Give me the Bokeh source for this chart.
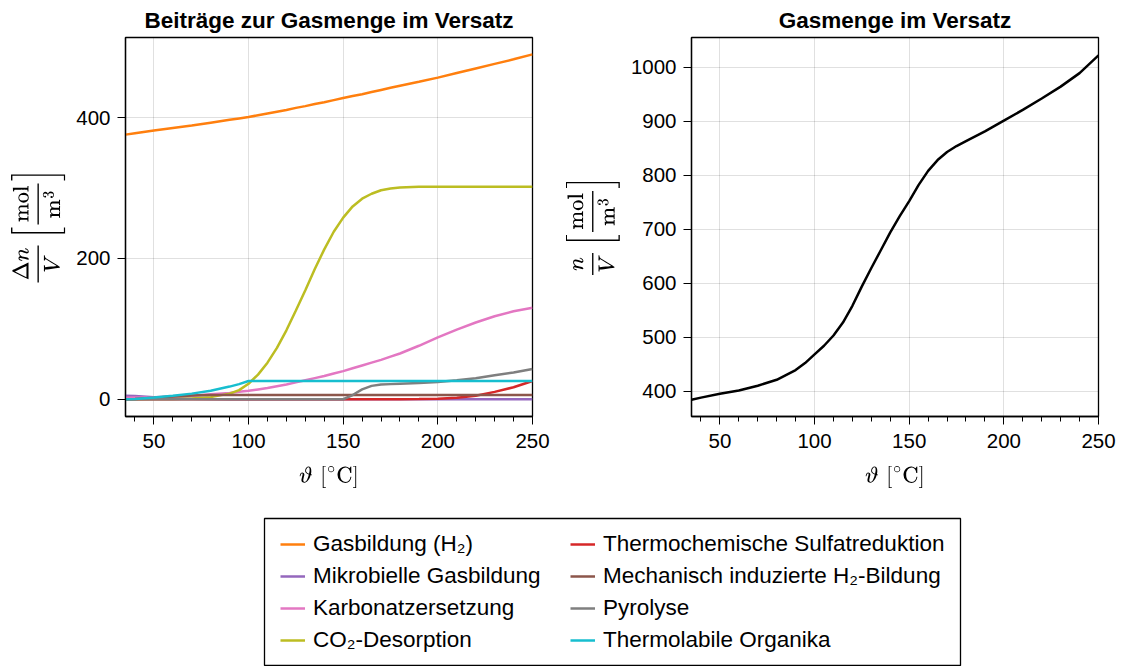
from bokeh.plotting import figure
from bokeh.models import Range1d, SingleIntervalTicker, Legend, LegendItem
from bokeh.layouts import column, row
from bokeh.embed import file_html
from bokeh.resources import INLINE

# Temperature grid (°C)
temperature = [35, 40, 50, 60, 70, 80, 90, 95, 100, 105, 110, 115, 120, 125, 130, 135,
               140, 145, 150, 155, 160, 165, 170, 175, 180, 190, 200, 210, 220, 230, 240, 250]

# Contributions to the gas amount (mol/m^3)
gasbildung_h2 = [376, 378, 382, 385.5, 389, 393, 397, 399, 401, 403.5, 406, 408.5, 411, 414, 416.5, 419.5,
                 422, 425, 428, 431, 433.5, 436.5, 439.5, 442.5, 445.5, 451, 457, 463.5, 470, 476.5, 483, 490]
mikrobiell = [5, 4.5, 3, 1.5, 0.6, 0.2, 0, 0, 0, 0, 0, 0, 0, 0, 0, 0,
              0, 0, 0, 0, 0, 0, 0, 0, 0, 0, 0, 0, 0, 0, 0, 0]
karbonat = [2, 2.5, 3, 4, 5, 7, 9, 10.5, 12, 14, 16, 18.5, 21, 24, 27, 30,
            33, 36.5, 40, 44, 48, 52, 56, 60.5, 65, 76, 88, 99, 109, 118, 125, 130]
co2_desorption = [0, 0, 0.2, 0.5, 1, 3, 8, 13, 22, 35, 52, 73, 98, 126, 155, 185,
                  213, 238, 258, 274, 285, 292, 297, 299.5, 301, 302, 302, 302, 302, 302, 302, 302]
sulfatreduktion = [0, 0, 0, 0, 0, 0, 0, 0, 0, 0, 0, 0, 0, 0, 0, 0,
                   0, 0, 0, 0, 0, 0, 0, 0, 0, 0.3, 0.8, 2, 5, 10.5, 17, 26]
mechanisch_h2 = [0, 0.5, 2, 4, 5.5, 6, 6, 6, 6, 6, 6, 6, 6, 6, 6, 6,
                 6, 6, 6, 6, 6, 6, 6, 6, 6, 6, 6, 6, 6, 6, 6, 6]
pyrolyse = [0, 0, 0, 0, 0, 0, 0, 0, 0, 0, 0, 0, 0, 0, 0, 0,
            0, 0, 0, 6, 14, 19, 21, 21.5, 22, 23, 24.5, 27, 30, 34, 38, 43]
thermolabil = [0, 0.5, 2.5, 5, 8, 12, 18, 21.5, 26, 26, 26, 26, 26, 26, 26, 26,
               26, 26, 26, 26, 26, 26, 26, 26, 26, 26, 26, 26, 26, 26, 26, 26]

# Total gas amount (mol/m^3)
gesamt = [384, 388, 395, 401, 410, 421, 439, 452, 468, 484, 503, 527, 558, 594, 628, 661,
          694, 724, 752, 782, 808, 828, 843, 854, 863, 881, 901, 921, 942, 964, 989, 1022]

labels = ["Gasbildung (H₂)", "Mikrobielle Gasbildung", "Karbonatzersetzung", "CO₂-Desorption",
          "Thermochemische Sulfatreduktion", "Mechanisch induzierte H₂-Bildung", "Pyrolyse",
          "Thermolabile Organika"]
series = [gasbildung_h2, mikrobiell, karbonat, co2_desorption,
          sulfatreduktion, mechanisch_h2, pyrolyse, thermolabil]
colors = ["#ff7f0e", "#9467bd", "#e377c2", "#bcbd22",
          "#d62728", "#8c564b", "#7f7f7f", "#17becf"]

FONT = "Liberation Sans"
LW = 2.5


def style(p, y_interval):
    p.title.text_font = FONT
    p.title.text_font_size = "22.5px"
    p.title.text_font_style = "bold"
    p.title.text_color = "black"
    p.title.align = "center"
    p.title.offset = 0
    p.outline_line_color = "black"
    p.outline_line_width = 1.3
    p.outline_line_alpha = 1
    p.xaxis.ticker = SingleIntervalTicker(interval=50, num_minor_ticks=5)
    p.yaxis.ticker = SingleIntervalTicker(interval=y_interval, num_minor_ticks=0)
    for ax in (p.xaxis, p.yaxis):
        ax.major_label_text_font = FONT
        ax.major_label_text_font_size = "20.5px"
        ax.major_label_text_color = "black"
        ax.axis_line_color = "black"
        ax.axis_line_width = 1.3
        ax.major_tick_line_color = "black"
        ax.minor_tick_line_color = "black"
        ax.major_tick_in = 0
        ax.major_tick_out = 8
        ax.minor_tick_in = 0
        ax.minor_tick_out = 5
        ax.axis_label_text_font_size = "19px"
        ax.axis_label_text_font_style = "normal"
        ax.axis_label_text_color = "black"
    p.xaxis.major_label_standoff = 9
    p.xaxis.axis_label_standoff = 15
    p.yaxis.major_label_standoff = 7
    p.yaxis.axis_label_standoff = 8
    p.yaxis.minor_tick_line_color = None
    p.grid.grid_line_color = "black"
    p.grid.grid_line_alpha = 0.12
    p.grid.grid_line_width = 1
    p.xaxis.axis_label = r"$$\vartheta\,\left[{}^\circ\mathrm{C}\right]$$"


# Left: individual contributions
p1 = figure(width=560, height=500, x_range=Range1d(35, 250), y_range=Range1d(-24.5, 514),
            title="Beiträge zur Gasmenge im Versatz", output_backend="svg", toolbar_location=None,
            min_border_left=125, min_border_right=28, min_border_top=37, min_border_bottom=84)
style(p1, 200)
p1.yaxis.axis_label = r"$$\frac{\Delta n}{V}\,\left[\frac{\mathrm{mol}}{\mathrm{m}^3}\right]$$"
for vals, col in zip(series, colors):
    p1.line(temperature, vals, line_color=col, line_width=LW)

# Right: total gas amount
p2 = figure(width=563, height=500, x_range=Range1d(35, 250), y_range=Range1d(353, 1055),
            title="Gasmenge im Versatz", output_backend="svg", toolbar_location=None,
            min_border_left=131, min_border_right=25, min_border_top=37, min_border_bottom=84)
style(p2, 100)
p2.yaxis.axis_label = r"$$\frac{n}{V}\,\left[\frac{\mathrm{mol}}{\mathrm{m}^3}\right]$$"
p2.line(temperature, gesamt, line_color="black", line_width=LW)

# Shared legend below both panels; its frame outline is the legend box
pl = figure(width=1123, height=166, x_range=Range1d(0, 1), y_range=Range1d(0, 1),
            x_axis_type=None, y_axis_type=None, output_backend="svg", toolbar_location=None,
            min_border_left=264, min_border_right=163, min_border_top=18, min_border_bottom=0)
pl.grid.visible = False
pl.outline_line_color = "black"
pl.outline_line_width = 1.3
items = []
for lab, col in zip(labels, colors):
    # placeholder lines outside the visible range, only used for the legend glyphs
    r = pl.line([-5, -4], [-5, -4], line_color=col, line_width=LW)
    items.append(LegendItem(label=lab, renderers=[r]))


def make_legend(its, loc):
    return Legend(items=its, location=loc, orientation="vertical",
                  border_line_color=None, background_fill_alpha=0,
                  padding=15, spacing=6, margin=0,
                  label_height=26, glyph_height=20, glyph_width=25, label_standoff=8,
                  label_text_font=FONT, label_text_font_size="22.5px", label_text_color="black")


pl.add_layout(make_legend(items[:4], (16, 13)))
pl.add_layout(make_legend(items[4:], (306, 13)))

layout = column(row(p1, p2), pl)
open("out.html", "w").write(file_html(layout, INLINE))
